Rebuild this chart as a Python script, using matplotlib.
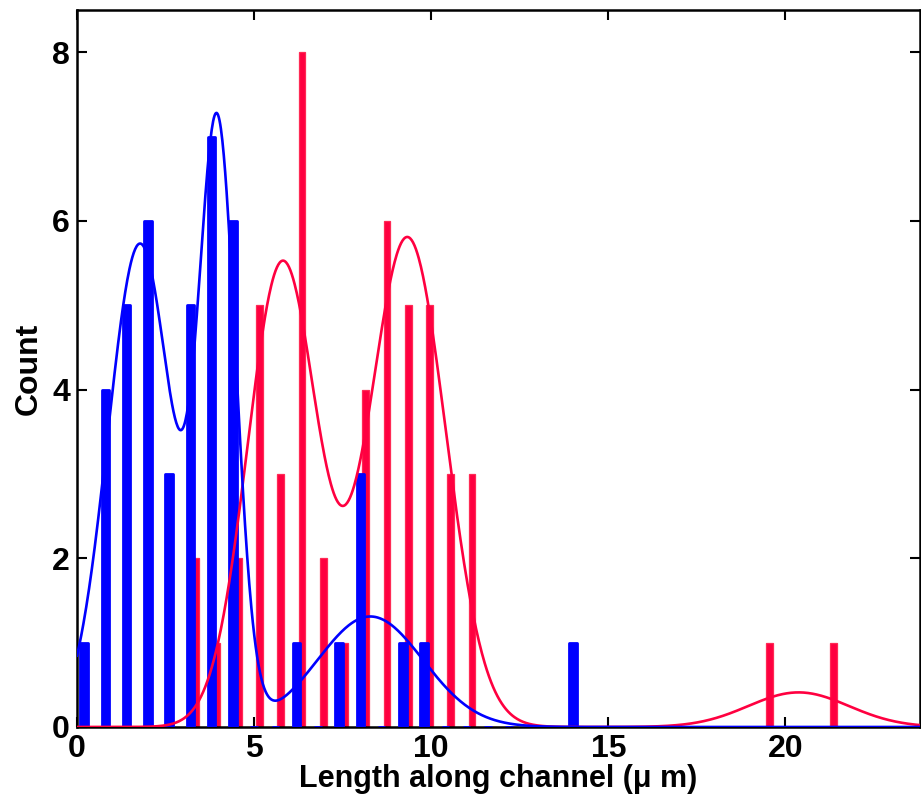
import numpy as np
import matplotlib
matplotlib.use("Agg")
import matplotlib.pyplot as plt

# ---- data: histogram bins (centres) and counts ----
blue_centers = [0.2, 0.8, 1.4, 2.0, 2.6, 3.2, 3.8, 4.4, 5.0, 5.6, 6.2, 6.8,
                7.4, 8.0, 8.6, 9.2, 9.8, 10.4, 11.0, 11.6, 12.2, 12.8, 13.4, 14.0]
blue_counts = [1, 4, 5, 6, 3, 5, 7, 6, 0, 0, 1, 0,
               1, 3, 0, 1, 1, 0, 0, 0, 0, 0, 0, 1]

red_centers = [3.35, 3.95, 4.55, 5.15, 5.75, 6.35, 6.95, 7.55, 8.15, 8.75,
               9.35, 9.95, 10.55, 11.15, 11.75, 12.35, 12.95, 13.55, 14.15,
               14.75, 15.35, 15.95, 16.55, 17.15, 17.75, 18.35, 18.95, 19.55,
               20.15, 20.75, 21.35]
red_counts = [2, 1, 2, 5, 3, 8, 2, 1, 4, 6,
              5, 5, 3, 3, 0, 0, 0, 0, 0,
              0, 0, 0, 0, 0, 0, 0, 0, 1,
              0, 0, 1]

# ---- fitted Gaussian-mixture components (amplitude, mean, sigma) ----
blue_amp = [5.73, 6.93, 1.31]
blue_mu = [1.78, 3.97, 8.28]
blue_sig = [0.91, 0.52, 1.49]

red_amp = [5.50, 5.80, 0.41]
red_mu = [5.80, 9.33, 20.37]
red_sig = [0.985, 1.08, 1.42]

BLUE = "#0000ff"
RED = "#ff0040"

plt.rcParams['font.family'] = ['Liberation Sans', 'DejaVu Sans']
plt.rcParams['font.weight'] = 'bold'

fig = plt.figure(figsize=(9.21, 8.11), dpi=100)
ax = fig.add_axes([0.0836, 0.1036, 0.9154, 0.8841])

ax.bar(red_centers, red_counts, width=0.19, color=RED, edgecolor="#ff2a55",
       linewidth=0.9, zorder=2)
ax.bar(blue_centers, blue_counts, width=0.21, color=BLUE, edgecolor=BLUE,
       linewidth=2.0, joinstyle='round', zorder=3)

xs = np.linspace(0, 24, 1200)

def mixture(amp, mu, sig):
    y = np.zeros_like(xs)
    for a, m, s in zip(amp, mu, sig):
        y += a * np.exp(-(xs - m) ** 2 / (2 * s ** 2))
    return y

ax.plot(xs, mixture(red_amp, red_mu, red_sig), color=RED, lw=1.9, zorder=4)
ax.plot(xs, mixture(blue_amp, blue_mu, blue_sig), color=BLUE, lw=1.9, zorder=5)

ax.set_xlim(0, 23.8)
ax.set_ylim(0, 8.5)
ax.set_xticks([0, 5, 10, 15, 20])
ax.set_yticks([0, 2, 4, 6, 8])
ax.tick_params(direction='in', length=7, width=1.5, top=True, right=True,
               labelsize=23, pad=5)
for lab in ax.get_xticklabels() + ax.get_yticklabels():
    lab.set_fontweight('bold')
for sp in ax.spines.values():
    sp.set_linewidth(1.8)

ax.set_xlabel("Length along channel (\u03bc m)", fontsize=22, fontweight='bold',
              labelpad=0)
ax.set_ylabel("Count", fontsize=23, fontweight='bold', labelpad=6)

fig.savefig("out.png", dpi=100)
